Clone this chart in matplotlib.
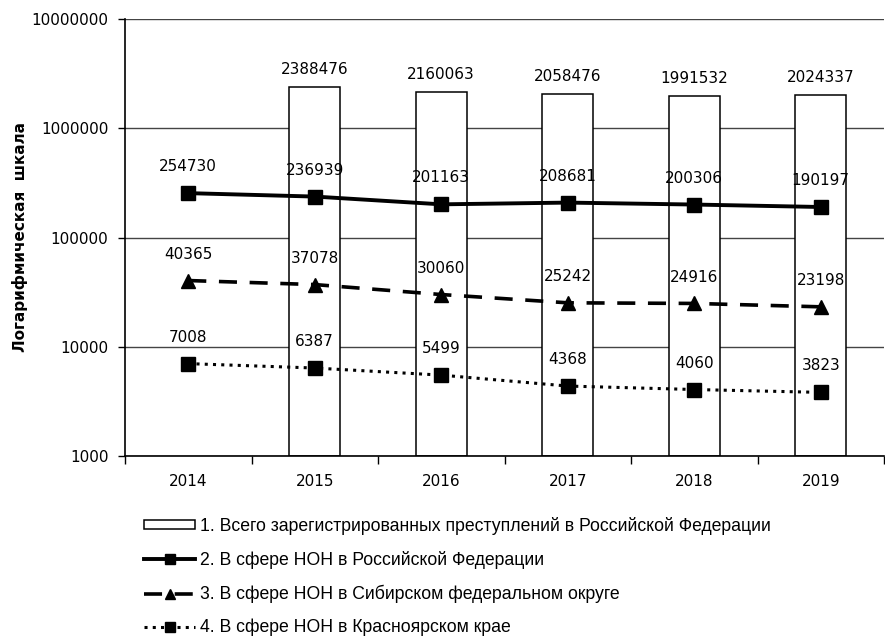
import numpy as np
import matplotlib
matplotlib.use("Agg")
import matplotlib.pyplot as plt
from matplotlib.ticker import FixedLocator, FuncFormatter

years = ["2014", "2015", "2016", "2017", "2018", "2019"]
total_rf = [np.nan, 2388476, 2160063, 2058476, 1991532, 2024337]
non_rf = [254730, 236939, 201163, 208681, 200306, 190197]
non_sfo = [40365, 37078, 30060, 25242, 24916, 23198]
non_kk = [7008, 6387, 5499, 4368, 4060, 3823]

legend_labels = [
    "1. Всего зарегистрированных преступлений в Российской Федерации",
    "2. В сфере НОН в Российской Федерации",
    "3. В сфере НОН в Сибирском федеральном округе",
    "4. В сфере НОН в Красноярском крае",
]

plt.rcParams['font.family'] = ['DejaVu Sans']

fig = plt.figure(figsize=(8.85, 6.37), dpi=100)
ax = fig.add_axes([125 / 885, 1 - 456 / 637, 759 / 885, 437 / 637])

x = np.arange(len(years))
tot = np.array(total_rf, dtype=float)
has_bar = ~np.isnan(tot)

# bars (total crimes), drawn up from the axis floor; 2014 has no value
bars = ax.bar(x[has_bar], tot[has_bar] - 1000, bottom=1000, width=0.4,
              color='white', edgecolor='black', linewidth=1.1, zorder=2)
for xi, v in zip(x[has_bar], tot[has_bar]):
    ax.annotate(str(int(v)), (xi, v), xytext=(0, 7), textcoords='offset points',
                ha='center', va='bottom', fontsize=11)

# lines
l2, = ax.plot(x, non_rf, color='black', lw=2.8, marker='s', markersize=10, zorder=3)
l3, = ax.plot(x, non_sfo, color='black', lw=2.6, ls=(0, (5, 3.5)), marker='^',
              markersize=10, zorder=3)
l4, = ax.plot(x, non_kk, color='black', lw=2.2, ls=(0, (1, 1.7)), marker='s',
              markersize=10, zorder=3)

for series in (non_rf, non_sfo, non_kk):
    for xi, v in zip(x, series):
        ax.annotate(str(v), (xi, v), xytext=(0, 19), textcoords='offset points',
                    ha='center', va='center', fontsize=11)

ax.set_yscale('log')
ax.set_ylim(1000, 10000000)
ax.set_xlim(-0.5, len(years) - 0.5)

ax.yaxis.set_major_locator(FixedLocator([1e3, 1e4, 1e5, 1e6, 1e7]))
ax.yaxis.set_minor_locator(FixedLocator([]))
ax.yaxis.set_major_formatter(FuncFormatter(lambda v, p: str(int(round(v)))))
ax.tick_params(axis='y', labelsize=11, length=5, width=1, direction='out', pad=7)

ax.set_xticks(x)
ax.set_xticklabels(years, fontsize=11)
ax.set_xticks(np.arange(-0.5, len(years)), minor=True)
ax.tick_params(axis='x', which='major', length=0, pad=13)
ax.tick_params(axis='x', which='minor', length=6, width=1, direction='out')

ax.grid(axis='y', color='#444444', lw=1, zorder=0)
ax.set_axisbelow(True)
for s in ('top', 'right'):
    ax.spines[s].set_visible(False)
ax.spines['left'].set_linewidth(1.2)
ax.spines['bottom'].set_linewidth(1.2)

ax.set_ylabel("Логарифмическая  шкала", fontsize=11, fontweight='bold')
ax.yaxis.set_label_coords(-0.128, 0.5)

fig.legend([bars, l2, l3, l4], legend_labels, loc='upper left',
           bbox_to_anchor=(144 / 885, 1 - 517 / 637), frameon=False,
           prop={'family': ['Liberation Sans'], 'size': 12.7},
           handlelength=2.9, handleheight=0.4, handletextpad=0.3, labelspacing=0.9,
           markerscale=0.75, borderaxespad=0, borderpad=0)

fig.savefig("out.png", dpi=100)
